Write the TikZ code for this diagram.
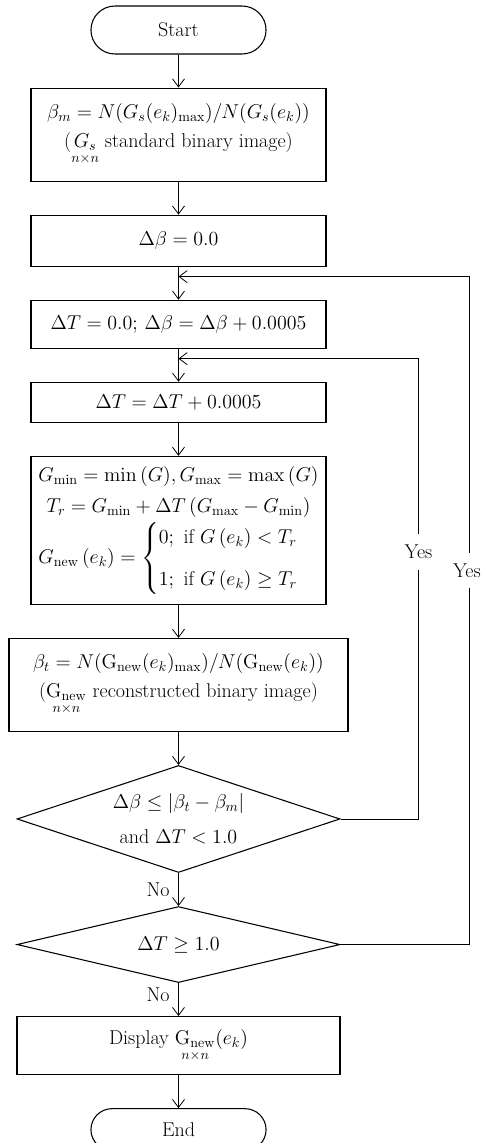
\RequirePackage{fix-cm}
\documentclass[tikz,border=0pt]{standalone}
\usepackage{amsmath,amssymb}
\usetikzlibrary{arrows.meta, positioning, shapes.geometric, shapes.misc, calc}

\begin{document}
\begin{tikzpicture}[x=0.75pt, y=-0.75pt, node distance=24.75pt, every node/.style={font=\fontsize{15}{18}\selectfont}]
  % styles
  \tikzstyle{terminal}=[rounded rectangle, minimum width=138pt, align=center, draw=black, line width=0.8pt]
  \tikzstyle{process}=[rectangle, minimum width=221.25pt, align=center, draw=black, line width=0.8pt, inner sep=1pt]
  \tikzstyle{decision}=[diamond, shape aspect=3, inner sep=0pt, minimum width=242.25pt, align=center, draw=black, line width=0.8pt]
  \tikzstyle{arrow}=[line width=0.6pt, -{Straight Barb[length=6pt, width=9pt]}]
  \tikzstyle{yeslabel}=[fill=white, inner xsep=1pt, inner ysep=8pt]

  \useasboundingbox (0,0) rectangle (480,1143);

  % nodes
  \node (start) [terminal, minimum height=36pt] at (178.5,30) {Start};
  \node (betam) [process, minimum height=69.75pt, below=of start] {$\beta_m = N(G_s(e_k)_{\max})/N(G_s(e_k))$\\[4pt] ($\underset{n\times n}{G_s}$ standard binary image)};
  \node (dbeta) [process, minimum height=38.25pt, below=of betam] {$\Delta\beta = 0.0$};
  \node (dtzero) [process, minimum height=36pt, below=of dbeta] {$\Delta T = 0.0;\, \Delta\beta = \Delta\beta + 0.0005$};
  \node (dtinc) [process, minimum height=30pt, below=of dtzero] {$\Delta T = \Delta T + 0.0005$};
  \node (thresh) [process, minimum height=111pt, below=of dtinc] {$G_{\min} = \min\,(G), G_{\max} = \max\,(G)$\\[5pt]
    $T_r = G_{\min} + \Delta T\,(G_{\max} - G_{\min})$\\[3pt]
    $G_{\mathrm{new}}\,(e_k) = \begin{cases} 0;\ \text{if } G\,(e_k) < T_r\\[10pt] 1;\ \text{if } G\,(e_k) \geq T_r\end{cases}$};
  \node (betat) [process, minimum width=254.25pt, minimum height=69.75pt, below=of thresh] {$\beta_t = N(\mathrm{G}_{\mathrm{new}}(e_k)_{\max})/N(\mathrm{G}_{\mathrm{new}}(e_k))$\\[4pt] ($\underset{n\times n}{\mathrm{G}_{\mathrm{new}}}$ reconstructed binary image)};
  \node (testbeta) [decision, minimum height=80.25pt, below=of betat] {$\Delta\beta \leq |\beta_t - \beta_m|$\\[8pt] and $\Delta T < 1.0$};
  \node (testt) [decision, minimum height=57pt, below=of testbeta] {$\Delta T \geq 1.0$};
  \node (display) [process, minimum width=242.25pt, minimum height=43.5pt, below=of testt] {Display $\underset{n\times n}{\mathrm{G}_{\mathrm{new}}}(e_k)$};
  \node (stop) [terminal, minimum height=31.5pt, below=of display] {End};

  % junctions
  \coordinate (j1) at ($(dbeta.south)!0.3!(dtzero.north)$);
  \coordinate (j2) at ($(dtzero.south)!0.3!(dtinc.north)$);

  % arrows
  \draw[arrow] (start) -- (betam);
  \draw[arrow] (betam) -- (dbeta);
  \draw[arrow] (dbeta) -- (dtzero);
  \draw[arrow] (dtzero) -- (dtinc);
  \draw[arrow] (dtinc) -- (thresh);
  \draw[arrow] (thresh) -- (betat);
  \draw[arrow] (betat) -- (testbeta);
  \draw[arrow] (testbeta) -- node[left, xshift=-3pt] {No} (testt);
  \draw[arrow] (testt) -- node[left, xshift=-3pt, pos=0.35] {No} (display);
  \draw[arrow] (display) -- (stop);
  \draw[arrow] (testbeta.east) -- ++(78,0) |- node[yeslabel, pos=0.29] {Yes} (j2);
  \draw[arrow] (testt.east) -- ++(129,0) |- node[yeslabel, pos=0.28, xshift=-2pt] {Yes} (j1);
\end{tikzpicture}
\end{document}
